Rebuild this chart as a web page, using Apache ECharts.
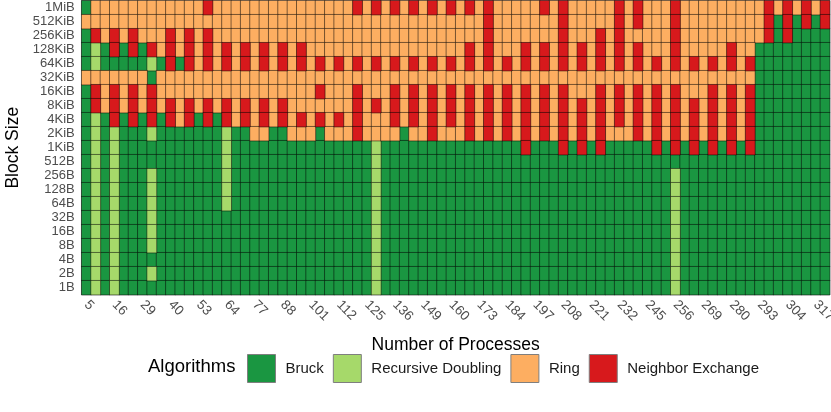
<!DOCTYPE html>
<html>
<head>
<meta charset="utf-8">
<script src="https://cdn.jsdelivr.net/npm/echarts@6/dist/echarts.min.js"></script>
<style>
  html, body { margin: 0; padding: 0; background: #fff; }
  #chart { width: 831px; height: 412px; }
</style>
</head>
<body>
<div id="chart"></div>
<script>
// process counts (x axis), one per column
const processes = [5, 8, 13, 16, 21, 24, 29, 32, 37, 40, 45, 48, 53, 56, 61, 64, 69, 72, 77, 80,
  85, 88, 93, 96, 101, 104, 109, 112, 117, 120, 125, 128, 133, 136, 141, 144, 149, 152, 157, 160,
  165, 168, 173, 176, 181, 184, 189, 192, 197, 200, 205, 208, 213, 216, 221, 224, 229, 232, 237, 240,
  245, 248, 253, 256, 261, 264, 269, 272, 277, 280, 285, 288, 293, 296, 301, 304, 309, 312, 317, 320];

// block sizes (y axis), bottom to top
const blockSizes = ['1B', '2B', '4B', '8B', '16B', '32B', '64B', '128B', '256B', '512B',
  '1KiB', '2KiB', '4KiB', '8KiB', '16KiB', '32KiB', '64KiB', '128KiB', '256KiB', '512KiB', '1MiB'];

const algorithms = ['Bruck', 'Recursive Doubling', 'Ring', 'Neighbor Exchange'];
const algoCodes = ['B', 'D', 'R', 'N'];
const algoColors = ['#1a9641', '#a6d96a', '#fdae61', '#d7191c'];

// fastest algorithm per cell, rows from 1MiB (top) down to 1B, one letter per process count
const bestAlgo = [
  'BRRRRRRRRR RRRNRRRRRR RRRRRRRRRN RNRNRNRNRN RNRNRRRRRN RNRRRRRNRN RRRNRRRRRR RRRNRNRNRN', // 1MiB
  'RRRRRRRRRR RRRRRRRRRR RRRRRRRRRR RRRRRRRRRR RRRNRRRRRR RNRRRRRNRN RRRNRRRRRR RRRNBNBNBN', // 512KiB
  'BNRNRNRRRN RNRNRRRRRR RRRRRRRRRR RRRRRRRRRR RRRNRRRRRR RNRRRNRNRR RRRNRRRRRR RRRNBNBBBB', // 256KiB
  'BDBNBNBNRN RNRNRNRNRN RNRNRRRRRR RRRRRRRRRR RNRNRRRNRN RNRNRNRNRN RRRNRRRRRN RRBBBBBBBB', // 128KiB
  'BDBBBBBDBN BNRNRNRNRN RNRNRNRNRN RNRNRNRNRN RNRNRNRNRN RNRNRNRNRN RNRNRNRNRN RNBBBBBBBB', // 64KiB
  'RRRRRRRBRR RRRRRRRRRR RRRRRRRRRR RRRRRRRRRR RRRRRRRRRR RRRRRRRRRR RRRRRRRRRR RRBBBBBBBB', // 32KiB
  'BNRNRNRNRR RRRRRRRRRR RRRRRNRRRN RRRNRNRNRN RNRNRNRNRN RNRRRNRNRN RNRNRRRNRN RNBBBBBBBB', // 16KiB
  'BNRNRNRNRN RNRNRNRNRN RNRRRRRRRN RNRNRNRNRN RNRNRNRNRN RNRNRNRNRN RNRNRNRNRN RNBBBBBBBB', // 8KiB
  'BDBNBNBNBN RNBNBNRNRN RNRNRNRNRN RRRNRNRNRN RNRNRNRNRN RNRNRNRNRN RNRNRNRNRN RNBBBBBBBB', // 4KiB
  'BDBDBBBDBB BBBBBDBBRR BBRRRBRRRN RRRRBRRNRR RNRNRNRNRN RNRNRNRRRN RNRNRNRNRN RNBBBBBBBB', // 2KiB
  'BDBDBBBBBB BBBBBDBBBB BBBBBBBBBB BDBBBBBBBB BBBBBBBNBB BNBNBNBBBB BNBNBNBNBN BNBBBBBBBB', // 1KiB
  'BDBDBBBBBB BBBBBDBBBB BBBBBBBBBB BDBBBBBBBB BBBBBBBBBB BBBBBBBBBB BBBBBBBBBB BBBBBBBBBB', // 512B
  'BDBDBBBDBB BBBBBDBBBB BBBBBBBBBB BDBBBBBBBB BBBBBBBBBB BBBBBBBBBB BBBDBBBBBB BBBBBBBBBB', // 256B
  'BDBDBBBDBB BBBBBDBBBB BBBBBBBBBB BDBBBBBBBB BBBBBBBBBB BBBBBBBBBB BBBDBBBBBB BBBBBBBBBB', // 128B
  'BDBDBBBDBB BBBBBDBBBB BBBBBBBBBB BDBBBBBBBB BBBBBBBBBB BBBBBBBBBB BBBDBBBBBB BBBBBBBBBB', // 64B
  'BDBDBBBDBB BBBBBBBBBB BBBBBBBBBB BDBBBBBBBB BBBBBBBBBB BBBBBBBBBB BBBDBBBBBB BBBBBBBBBB', // 32B
  'BDBDBBBDBB BBBBBBBBBB BBBBBBBBBB BDBBBBBBBB BBBBBBBBBB BBBBBBBBBB BBBDBBBBBB BBBBBBBBBB', // 16B
  'BDBDBBBDBB BBBBBBBBBB BBBBBBBBBB BDBBBBBBBB BBBBBBBBBB BBBBBBBBBB BBBDBBBBBB BBBBBBBBBB', // 8B
  'BDBDBBBBBB BBBBBBBBBB BBBBBBBBBB BDBBBBBBBB BBBBBBBBBB BBBBBBBBBB BBBDBBBBBB BBBBBBBBBB', // 4B
  'BDBDBBBDBB BBBBBBBBBB BBBBBBBBBB BDBBBBBBBB BBBBBBBBBB BBBBBBBBBB BBBDBBBBBB BBBBBBBBBB', // 2B
  'BDBDBBBBBB BBBBBBBBBB BBBBBBBBBB BDBBBBBBBB BBBBBBBBBB BBBBBBBBBB BBBDBBBBBB BBBBBBBBBB'  // 1B
];

const font = '"Liberation Sans", Arial, sans-serif';

// one heatmap series per algorithm so the legend gets one entry each
const series = algorithms.map((name, a) => {
  const data = [];
  bestAlgo.forEach((row, r) => {
    const codes = row.replace(/ /g, '');
    const yIdx = blockSizes.length - 1 - r;
    for (let c = 0; c < codes.length; c++) {
      if (codes[c] === algoCodes[a]) data.push([c, yIdx, a]);
    }
  });
  return {
    name: name,
    type: 'heatmap',
    data: data,
    itemStyle: { color: algoColors[a], borderColor: 'rgba(0,0,0,0.6)', borderWidth: 0.8 },
    emphasis: { disabled: true }
  };
});

const chart = echarts.init(document.getElementById('chart'));
chart.setOption({
  animation: false,
  textStyle: { fontFamily: font },
  grid: {
    left: 81.7, right: 1.3, top: 0.7, bottom: 117.3,
    outerBoundsMode: 'none',
    show: true, borderColor: '#8c8c8c', borderWidth: 1
  },
  xAxis: {
    type: 'category',
    data: processes.map(String),
    name: 'Number of Processes',
    nameLocation: 'middle',
    nameGap: 41,
    nameTextStyle: { fontSize: 17.5, color: '#000', fontFamily: font },
    axisLine: { lineStyle: { color: '#8c8c8c' } },
    axisTick: { interval: 2, alignWithLabel: true, length: 4, lineStyle: { color: '#333' } },
    axisLabel: { interval: 2, rotate: -45, fontSize: 13.5, color: '#4d4d4d', margin: 8, fontFamily: font },
    splitLine: { show: false }
  },
  yAxis: {
    type: 'category',
    data: blockSizes,
    name: 'Block Size',
    nameLocation: 'middle',
    nameGap: 60,
    nameTextStyle: { fontSize: 17.5, color: '#000', fontFamily: font },
    axisLine: { lineStyle: { color: '#8c8c8c' } },
    axisTick: { interval: 0, alignWithLabel: true, length: 4, lineStyle: { color: '#333' } },
    axisLabel: { interval: 0, fontSize: 13, color: '#4d4d4d', margin: 7, fontFamily: font },
    splitLine: { show: false }
  },
  legend: {
    data: algorithms,
    left: 247,
    top: 354,
    padding: 0,
    icon: 'rect',
    itemWidth: 28,
    itemHeight: 28,
    itemGap: 9,
    selectedMode: false,
    itemStyle: { borderColor: '#7f7f7f', borderWidth: 1 },
    textStyle: { fontSize: 15, color: '#1a1a1a', padding: [0, 0, 0, 5], fontFamily: font }
  },
  graphic: [{
    type: 'text',
    left: 148,
    top: 357,
    style: { text: 'Algorithms', fontSize: 18.5, fill: '#000', fontFamily: font }
  }],
  series: series
});
</script>
</body>
</html>
